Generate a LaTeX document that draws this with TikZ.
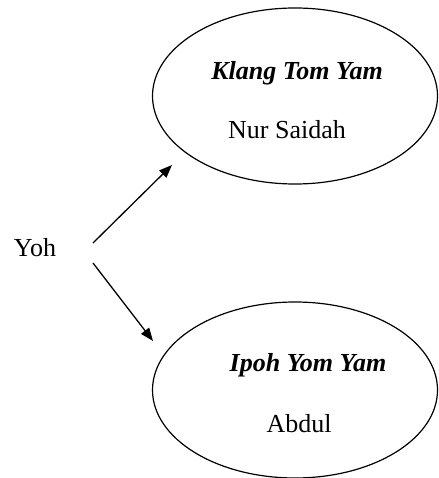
\documentclass[tikz,border=0pt]{standalone}
\usepackage{fontspec}
\setmainfont{Liberation Serif}
\usetikzlibrary{positioning, arrows.meta, shapes.geometric}

\begin{document}
\begin{tikzpicture}[
    x=1pt, y=-1pt,
    >={Triangle[length=13pt, width=10pt]},
    every node/.style={font=\fontsize{26}{30}\selectfont},
    shop/.style={ellipse, draw, line width=1.2pt, minimum width=285pt, minimum height=176pt},
    link/.style={->, line width=1.3pt}
]
\useasboundingbox (0,0) rectangle (438,478);

% kedai
\node[shop] (klangbox) at (295,96) {};
\node[shop] (ipohbox) at (295,390) {};

% teks
\node (klang) at (297,73) {\textbf{\textit{Klang Tom Yam}}};
\node (nur) at (287,130) {Nur Saidah};
\node (ipoh) at (308,365) {\textbf{\textit{Ipoh Yom Yam}}};
\node (abdul) at (299,424) {Abdul};
\node (yoh) at (35,248) {Yoh};

% hujung anak panah
\coordinate (upstart) at (93,243);
\coordinate (upend) at (172,165);
\coordinate (downstart) at (93,263);
\coordinate (downend) at (153,341);

\draw[link] (upstart) -- (upend);
\draw[link] (downstart) -- (downend);

\end{tikzpicture}
\end{document}
